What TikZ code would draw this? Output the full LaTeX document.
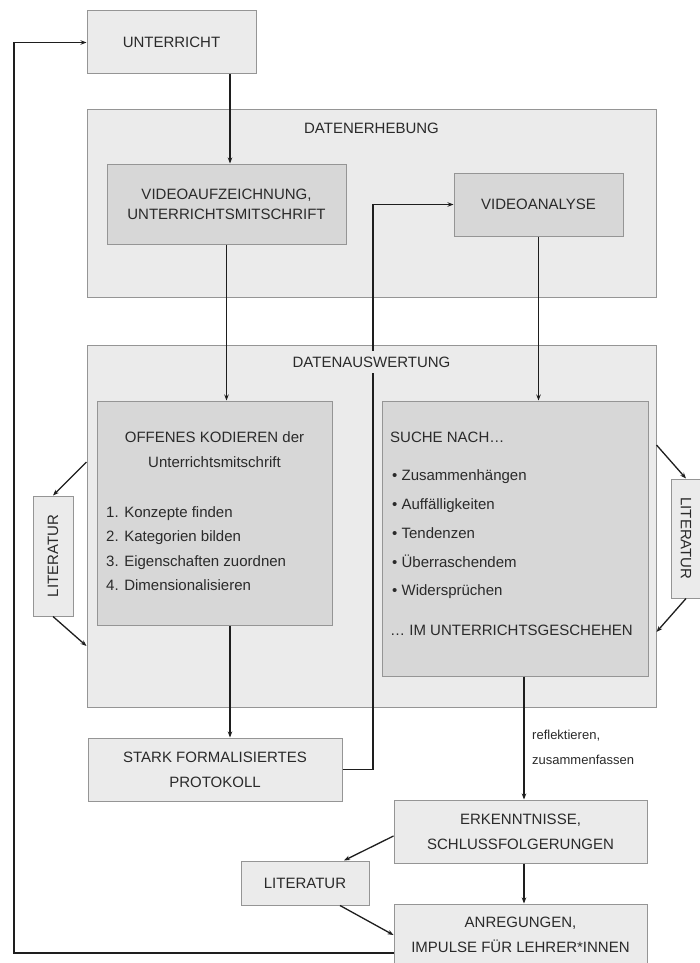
\documentclass[tikz,border=0pt]{standalone}
\usepackage{fontspec}
\setmainfont{Liberation Sans}
\usetikzlibrary{arrows.meta}
\definecolor{boxlight}{HTML}{EBEBEB}
\definecolor{boxdark}{HTML}{D7D7D7}
\definecolor{boxline}{HTML}{959595}
\definecolor{arrowline}{HTML}{1E1E1E}
\definecolor{textcol}{HTML}{2A2A2A}
\begin{document}
\begin{tikzpicture}[x=1pt, y=-1pt, >={Stealth[length=6pt,width=4.5pt]},
  lightbox/.style={draw=boxline, fill=boxlight, line width=1pt, inner sep=0pt,
    align=center, text=textcol, font=\fontsize{15}{25}\selectfont},
  darkbox/.style={lightbox, fill=boxdark},
  txt/.style={inner sep=0pt, text=textcol, font=\fontsize{15}{25}\selectfont},
  conn/.style={->, draw=arrowline, line width=1.3pt}]
\fill[white] (0,0) rectangle (699,963);
\useasboundingbox (0,0) rectangle (699,963);
%
\node[lightbox, minimum width=569, minimum height=187] (erhebung) at (371.5,203.5) {};
\node[lightbox, minimum width=569, minimum height=362] (auswertung) at (371.5,526) {};
%
\node[lightbox, minimum width=169, minimum height=63] (unterricht) at (171.5,42.5) {UNTERRICHT};
\node[darkbox, minimum width=239, minimum height=80] (aufzeichnung) at (226.5,204)
  {VIDEOAUFZEICHNUNG,\\[-5pt]UNTERRICHTSMITSCHRIFT};
\node[darkbox, minimum width=169, minimum height=63] (analyse) at (538.5,204.5) {VIDEOANALYSE};
%
\node[darkbox, minimum width=235, minimum height=224] (kodieren) at (214.5,513) {};
\node[txt, align=center] (kodtitel) at (214.5,449.5) {OFFENES KODIEREN der\\Unterrichtsmitschrift};
\node[txt, align=left, anchor=west, font=\fontsize{15}{24.3}\selectfont] (kodschritte) at (106,548.5)
  {1. Konzepte finden\\2. Kategorien bilden\\3. Eigenschaften zuordnen\\4. Dimensionalisieren};
%
\node[darkbox, minimum width=266, minimum height=275] (suche) at (515,538.5) {};
\node[txt, anchor=west] (suchtitel) at (390,437) {SUCHE NACH…};
\node[txt, align=left, anchor=west, font=\fontsize{15}{28.75}\selectfont] (suchpunkte) at (392,534.5)
  {• Zusammenhängen\\• Auffälligkeiten\\• Tendenzen\\• Überraschendem\\• Widersprüchen};
\node[txt, anchor=west] (suchende) at (390,630) {… IM UNTERRICHTSGESCHEHEN};
%
\node[lightbox, rotate=90, minimum width=120, minimum height=40] (litlinks) at (53,556) {LITERATUR};
\node[lightbox, rotate=-90, minimum width=119, minimum height=30] (litrechts) at (686,538.5) {LITERATUR};
%
\node[lightbox, minimum width=254, minimum height=63] (protokoll) at (215,769.5)
  {STARK FORMALISIERTES\\PROTOKOLL};
\node[lightbox, minimum width=253, minimum height=63] (erkenntnisse) at (520.5,831.5)
  {ERKENNTNISSE,\\SCHLUSSFOLGERUNGEN};
\node[lightbox, minimum width=128, minimum height=44] (litunten) at (305,883) {LITERATUR};
\node[lightbox, minimum width=253, minimum height=62] (anregungen) at (520.5,935)
  {ANREGUNGEN,\\IMPULSE FÜR LEHRER*INNEN};
%
\node[txt, anchor=west, align=left, font=\fontsize{13}{25}\selectfont] (reflektieren) at (532,747.5)
  {reflektieren,\\zusammenfassen};
%
\coordinate (knick) at (373,204.5);
\coordinate (rueck) at (14,953);
%
\draw[conn] (unterricht.south -| 230,0) -- (aufzeichnung.north -| 230,0);
\draw[conn] (aufzeichnung.south) -- (kodieren.north -| aufzeichnung.south);
\draw[conn] (kodieren.south -| 230,0) -- (protokoll.north -| 230,0);
\draw[conn] (analyse.south) -- (suche.north -| analyse.south);
\draw[conn] (protokoll.east) -| (knick) -- (analyse.west);
%
\draw[conn] (suche.south -| 524,0) -- (erkenntnisse.north -| 524,0);
\draw[conn] (erkenntnisse.south -| 524,0) -- (anregungen.north -| 524,0);
\draw[conn] (erkenntnisse.west |- 0,836) -- (litunten.north -| 344,0);
\draw[conn] (litunten.south -| 340,0) -- (anregungen.west);
\draw[conn] (anregungen.west |- rueck) -- (rueck) |- (unterricht.west);
%
\draw[conn] (auswertung.west |- 0,462) -- (litlinks.east);
\draw[conn] (litlinks.west) -- (auswertung.west |- 0,646);
\draw[conn] (auswertung.east |- 0,445) -- (litrechts.west);
\draw[conn] (litrechts.east) -- (auswertung.east |- 0,632);
%
\node[txt, fill=boxlight, inner xsep=3pt, inner ysep=6pt] (titelerhebung) at (371.5,128) {DATENERHEBUNG};
\node[txt, fill=boxlight, inner xsep=3pt, inner ysep=6pt] (titelauswertung) at (371.5,362) {DATENAUSWERTUNG};
%
\end{tikzpicture}
\end{document}
